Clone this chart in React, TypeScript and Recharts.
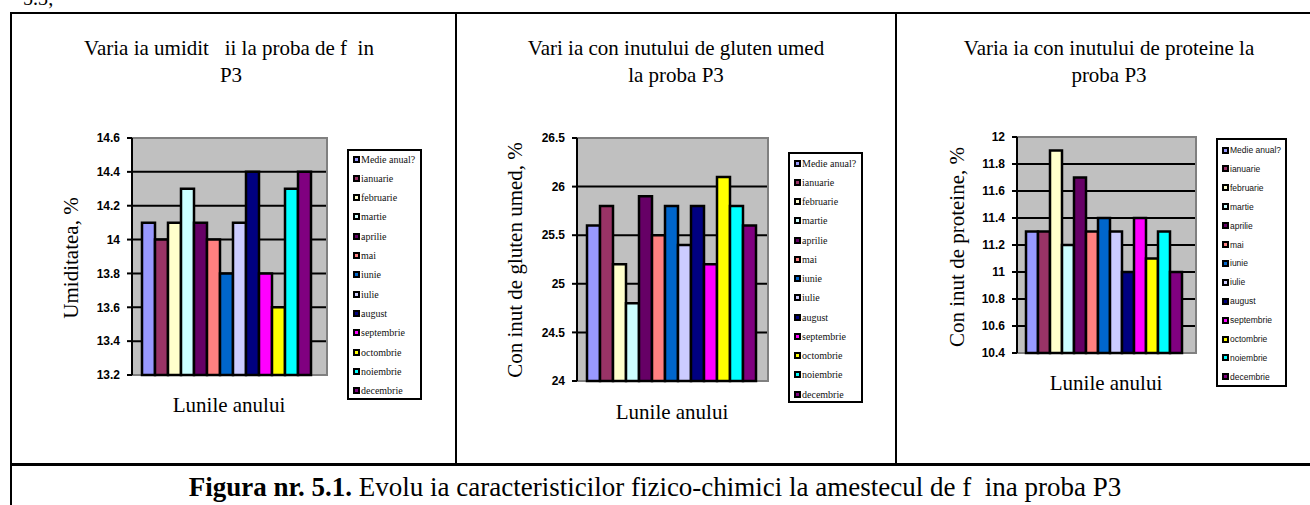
import { BarChart, Bar, XAxis, YAxis, CartesianGrid, ReferenceArea } from 'recharts';

// seriile din legenda (luna + media anuala)
const SERIES = ['Medie anual?', 'ianuarie', 'februarie', 'martie', 'aprilie', 'mai', 'iunie', 'iulie', 'august', 'septembrie', 'octombrie', 'noiembrie', 'decembrie'];
const SERIES_COLORS = ['#9999FF', '#993366', '#FFFFCC', '#CCFFFF', '#660066', '#FF8080', '#0066CC', '#CCCCFF', '#000080', '#FF00FF', '#FFFF00', '#00FFFF', '#800080'];

// valori P3
const UMIDITATE = [14.1, 14.0, 14.1, 14.3, 14.1, 14.0, 13.8, 14.1, 14.4, 13.8, 13.6, 14.3, 14.4];
const GLUTEN = [25.6, 25.8, 25.2, 24.8, 25.9, 25.5, 25.8, 25.4, 25.8, 25.2, 26.1, 25.8, 25.6];
const PROTEINE = [11.3, 11.3, 11.9, 11.2, 11.7, 11.3, 11.4, 11.3, 11.0, 11.4, 11.1, 11.3, 11.0];

const UMIDITATE_TICKS = [13.2, 13.4, 13.6, 13.8, 14, 14.2, 14.4, 14.6];
const GLUTEN_TICKS = [24, 24.5, 25, 25.5, 26, 26.5];
const PROTEINE_TICKS = [10.4, 10.6, 10.8, 11, 11.2, 11.4, 11.6, 11.8, 12];

const SERIF = '"Liberation Serif", "Times New Roman", serif';
const SANS = '"Liberation Sans", Arial, sans-serif';
const AXIS_W = 60;
const PAD = 12;

interface PlotBox {
    left: number;
    top: number;
    width: number;
    height: number;
    gap: number;
}

interface ChartProps {
    values: number[];
    ticks: number[];
    box: PlotBox;
}

const PanelChart = ({values, ticks, box}: ChartProps) => {
    // un singur rand, cate o coloana pe serie
    const row: Record<string, number | string> = {name: 'P3'};
    values.forEach((v, i) => {
        row[`s${i}`] = v;
    });
    const lo = ticks[0];
    const hi = ticks[ticks.length - 1];

    return (
        <div style={{position: 'absolute', left: box.left - AXIS_W, top: box.top - PAD}}>
            <BarChart
                width={box.width + AXIS_W + 4}
                height={box.height + PAD * 2}
                data={[row]}
                margin={{top: PAD, right: 4, bottom: PAD, left: 0}}
                barGap={0}
                barCategoryGap={box.gap}
            >
                <CartesianGrid vertical={false} fill="#C0C0C0" fillOpacity={1} stroke="#000" strokeWidth={2}/>
                <ReferenceArea y1={lo} y2={hi} fill="none" stroke="#808080" strokeWidth={2}/>
                <XAxis dataKey="name" hide/>
                <YAxis
                    type="number"
                    domain={[lo, hi]}
                    ticks={ticks}
                    interval={0}
                    width={AXIS_W}
                    tickSize={5}
                    tickMargin={7}
                    axisLine={{stroke: '#000', strokeWidth: 2}}
                    tickLine={{stroke: '#000', strokeWidth: 2}}
                    tick={{fontSize: 12, fontWeight: 700, fill: '#000', fontFamily: SANS}}
                />
                {values.map((_, i) => (
                    <Bar
                        key={SERIES[i]}
                        dataKey={`s${i}`}
                        name={SERIES[i]}
                        fill={SERIES_COLORS[i]}
                        stroke="#000"
                        strokeWidth={2.5}
                        isAnimationActive={false}
                    />
                ))}
            </BarChart>
        </div>
    );
};

interface LegendProps {
    left: number;
    top: number;
    width: number;
    height: number;
    firstRow: number;
    step: number;
    font: string;
    fontSize: number;
}

const SeriesLegend = ({left, top, width, height, firstRow, step, font, fontSize}: LegendProps) => (
    <div style={{
        position: 'absolute', left, top, width, height, boxSizing: 'border-box',
        border: '2px solid #000', background: '#fff'
    }}>
        {SERIES.map((name, i) => (
            <div key={name} style={{
                position: 'absolute', left: 4, top: firstRow + i * step - 8, height: 16,
                display: 'flex', alignItems: 'center', whiteSpace: 'nowrap'
            }}>
                <span style={{
                    width: 3, height: 3, border: '2px solid #000', background: SERIES_COLORS[i],
                    marginRight: 1, flexShrink: 0
                }}/>
                <span style={{fontFamily: font, fontSize, color: '#111'}}>{name}</span>
            </div>
        ))}
    </div>
);

const Txt = ({x, y, size = 21, children, rotate = false}: {x: number; y: number; size?: number; children: React.ReactNode; rotate?: boolean}) => (
    <div style={{
        position: 'absolute', left: x, top: y, whiteSpace: 'pre', fontFamily: SERIF, fontSize: size,
        color: '#000', lineHeight: 1,
        transform: `translate(-50%, -50%)${rotate ? ' rotate(-90deg)' : ''}`
    }}>
        {children}
    </div>
);

const line = (x: number, y: number, w: number, h: number) => (
    <div style={{position: 'absolute', left: x, top: y, width: w, height: h, background: '#000'}}/>
);

const App = () => (
    <div style={{position: 'absolute', left: 0, top: 0, width: 1310, height: 505, overflow: 'hidden', background: '#fff'}}>
        {/* ramasita din textul de deasupra tabelului */}
        <div style={{position: 'absolute', left: 23, top: -12, fontFamily: SERIF, fontSize: 20, lineHeight: 1}}>5.3;</div>

        {/* chenarul tabelului */}
        {line(10, 12, 1300, 2)}
        {line(10, 12, 2, 493)}
        {line(455, 12, 2, 453)}
        {line(895, 12, 2, 453)}
        {line(10, 463, 1300, 3)}

        {/* umiditate */}
        <Txt x={229} y={48}>{'Varia ia umidit   ii la proba de f  in'}</Txt>
        <Txt x={231} y={75}>P3</Txt>
        <Txt x={71} y={258} rotate>Umiditatea, %</Txt>
        <Txt x={229} y={405}>Lunile anului</Txt>
        <PanelChart values={UMIDITATE} ticks={UMIDITATE_TICKS} box={{left: 132, top: 138, width: 195, height: 237, gap: 10}}/>
        <SeriesLegend left={347} top={149} width={75} height={251} firstRow={8} step={19.3} font={SERIF} fontSize={10}/>

        {/* gluten umed */}
        <Txt x={676} y={48}>{'Vari ia con inutului de gluten umed'}</Txt>
        <Txt x={676} y={75}>la proba P3</Txt>
        <Txt x={515} y={260} rotate>Con inut de gluten umed, %</Txt>
        <Txt x={672} y={412}>Lunile anului</Txt>
        <PanelChart values={GLUTEN} ticks={GLUTEN_TICKS} box={{left: 577, top: 138, width: 191, height: 243, gap: 10}}/>
        <SeriesLegend left={788} top={152} width={75} height={251} firstRow={9} step={19.25} font={SERIF} fontSize={10}/>

        {/* proteine */}
        <Txt x={1109} y={48}>{'Varia ia con inutului de proteine la'}</Txt>
        <Txt x={1109} y={75}>proba P3</Txt>
        <Txt x={957} y={247} rotate>Con inut de proteine, %</Txt>
        <Txt x={1106} y={383}>Lunile anului</Txt>
        <PanelChart values={PROTEINE} ticks={PROTEINE_TICKS} box={{left: 1017, top: 137, width: 179, height: 216, gap: 9}}/>
        <SeriesLegend left={1216} top={138} width={71} height={249} firstRow={10} step={18.9} font={SANS} fontSize={8.5}/>

        {/* legenda figurii */}
        <div style={{
            position: 'absolute', left: 655, top: 487, transform: 'translate(-50%, -50%)', whiteSpace: 'pre',
            fontFamily: SERIF, fontSize: 27, lineHeight: 1
        }}>
            <b>Figura nr. 5.1.</b>{' Evolu ia caracteristicilor fizico-chimici la amestecul de f  ina proba P3'}
        </div>
    </div>
);

export default App;
